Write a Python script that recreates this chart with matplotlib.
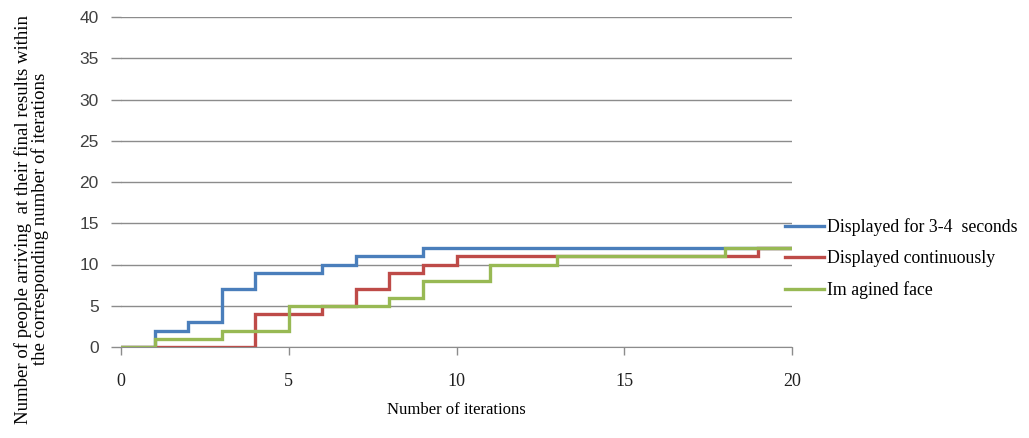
import matplotlib
matplotlib.use("Agg")
import matplotlib.pyplot as plt

iterations = list(range(0, 21))
displayed_3_4 = [0, 2, 3, 7, 9, 9, 10, 11, 11, 12, 12, 12, 12, 12, 12, 12, 12, 12, 12, 12, 12]
displayed_cont = [0, 0, 0, 0, 4, 4, 5, 7, 9, 10, 11, 11, 11, 11, 11, 11, 11, 11, 11, 12, 12]
imagined_face = [0, 1, 1, 2, 2, 5, 5, 5, 6, 8, 8, 10, 10, 11, 11, 11, 11, 11, 12, 12, 12]
series_labels = ["Displayed for 3-4  seconds", "Displayed continuously", "Im agined face"]
colors = ["#4A7EBB", "#BE4B48", "#98B954"]
x_ticks = [0, 5, 10, 15, 20]
y_ticks = [0, 5, 10, 15, 20, 25, 30, 35, 40]

fig = plt.figure(figsize=(10.29, 4.38), dpi=100)
ax = fig.add_axes([121/1029, 1-347/438, (792-121)/1029, (347-17)/438])

for vals, lab, c in zip([displayed_3_4, displayed_cont, imagined_face], series_labels, colors):
    ax.step(iterations, vals, where="post", color=c, lw=2.4, label=lab, solid_joinstyle="miter")

ax.set_xlim(0, 20)
ax.set_ylim(0, 40)
ax.set_xticks(x_ticks)
ax.set_yticks(y_ticks)
ax.grid(axis="y", color="#8c8c8c", lw=1)
ax.set_axisbelow(True)
for s in ["top", "right", "left"]:
    ax.spines[s].set_visible(False)
ax.spines["bottom"].set_color("#8c8c8c")
ax.tick_params(axis="y", length=7, color="#8c8c8c", width=1, pad=9)
ax.tick_params(axis="x", length=6, color="#8c8c8c", width=1, pad=13)
for t in ax.get_yticklabels():
    t.set_fontfamily("Liberation Sans")
    t.set_fontsize(12.5)
    t.set_color("#404040")
for t in ax.get_xticklabels():
    t.set_fontfamily("Liberation Serif")
    t.set_fontsize(13)
    t.set_color("#202020")

ax.set_xlabel("Number of iterations", fontfamily="Liberation Serif", fontsize=12, labelpad=8)
fig.text(0.031, 0.50, "Number of people arriving  at their final results within\nthe corresponding number of iterations",
         rotation=90, ha="center", va="center", fontfamily="Liberation Serif", fontsize=13.5,
         linespacing=0.95, multialignment="center")

ax.legend(loc="upper left", bbox_to_anchor=(0.99, 0.39), frameon=False,
          prop={"family": "Liberation Serif", "size": 12.8}, handlelength=2.2,
          handletextpad=0.15, labelspacing=0.78, borderaxespad=0, borderpad=0)

fig.savefig("out.png", dpi=100)
